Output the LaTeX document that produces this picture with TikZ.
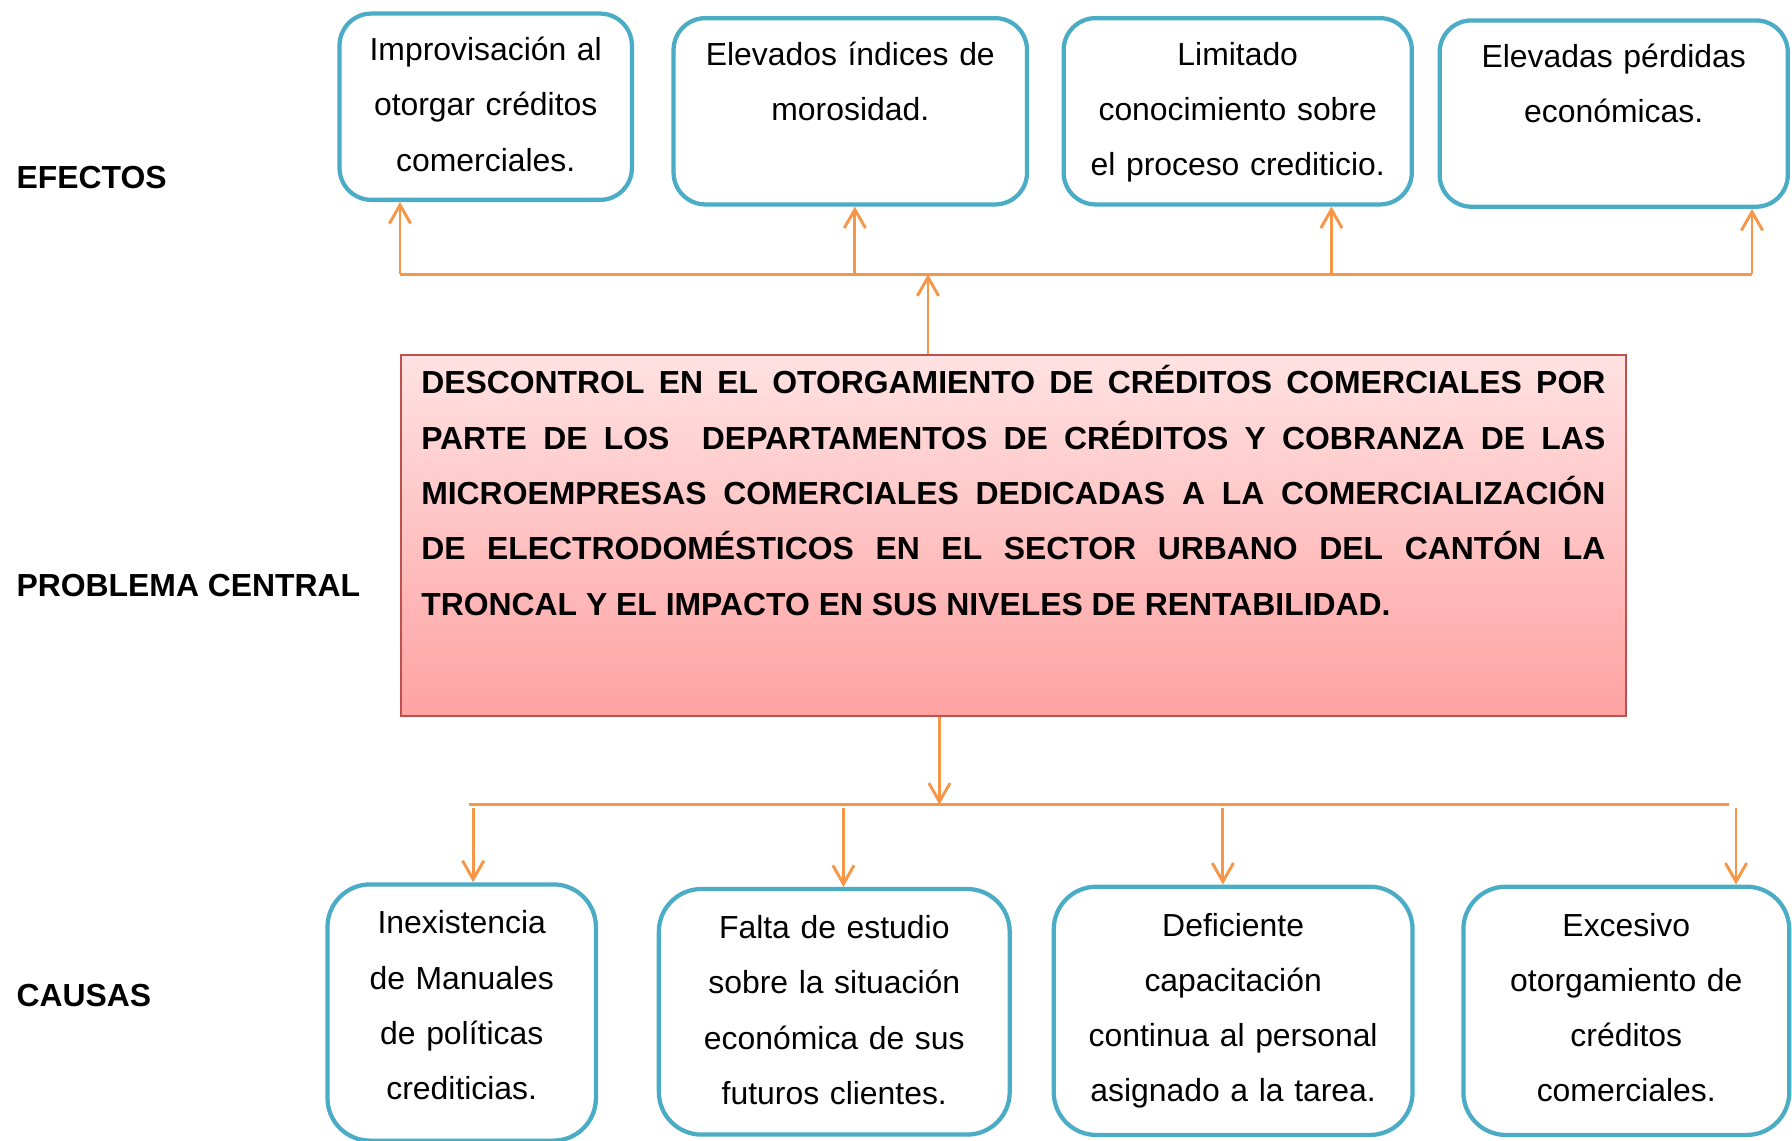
\documentclass[tikz,border=0pt]{standalone}
\usepackage{fontspec}
\setmainfont{Liberation Sans}
\usetikzlibrary{arrows.meta}
\usetikzlibrary{positioning}
\definecolor{boxblue}{HTML}{4BACC6}
\definecolor{linkorange}{HTML}{F79646}
\definecolor{probred}{HTML}{C0504D}
\definecolor{probtop}{HTML}{FFE2E2}
\definecolor{probbottom}{HTML}{FFA2A2}
\tikzstyle{arrow} = [line width=1.1pt, draw=linkorange, -{Straight Barb[length=7pt,width=8pt]}]
\tikzstyle{bus} = [line width=1.1pt, draw=linkorange]
\tikzstyle{heading} = [anchor=west, inner sep=0pt, font=\bfseries\fontsize{12}{14}\selectfont]
\tikzstyle{effect} = [rectangle, rounded corners=12pt, draw=boxblue, line width=1.6pt, fill=white, anchor=north, inner sep=0pt, align=center, text height=17.7pt, text depth=52.4pt, font=\fontsize{12}{20.8}\selectfont]
\tikzstyle{cause} = [rectangle, rounded corners=16pt, draw=boxblue, line width=1.6pt, fill=white, anchor=north, inner sep=0pt, align=center, text height=18.6pt, text depth=74.8pt, font=\fontsize{12}{20.8}\selectfont]
\tikzstyle{problem} = [rectangle, draw=probred, line width=0.6pt, top color=probtop, bottom color=probbottom, anchor=north west, inner xsep=7.7pt, inner ysep=0pt, text width=445.5pt, align=justify, text height=14.6pt, text depth=121.3pt, font=\bfseries\fontsize{12}{20.8}\selectfont]

\begin{document}
\begin{tikzpicture}[x=0.43pt, y=-0.43pt]
    \useasboundingbox (0,0) rectangle (1568,998);

    \node (EFECTOS) [heading] at (14,155) {EFECTOS};
    \node (CENTRAL) [heading] at (14,512) {PROBLEMA CENTRAL};
    \node (CAUSAS) [heading] at (14,871) {CAUSAS};

    \node (IMPROVISACION) [effect, text width=110pt] at (425,10) {Improvisación al\\ otorgar créditos\\ comerciales.};
    \node (MOROSIDAD) [effect, text width=133pt] at (744,14) {Elevados índices de\\ morosidad.};
    \node (CONOCIMIENTO) [effect, text width=131pt] at (1083,14) {Limitado\\ conocimiento sobre\\ el proceso crediticio.};
    \node (PERDIDAS) [effect, text width=131pt] at (1412,16) {Elevadas pérdidas\\ económicas.};

    \node (PROBLEMA) [problem] at (350,310) {DESCONTROL EN EL OTORGAMIENTO DE CRÉDITOS COMERCIALES POR\linebreak PARTE DE LOS \ DEPARTAMENTOS DE CRÉDITOS Y COBRANZA DE LAS\linebreak MICROEMPRESAS COMERCIALES DEDICADAS A LA COMERCIALIZACIÓN\linebreak DE ELECTRODOMÉSTICOS EN EL SECTOR URBANO DEL CANTÓN LA\linebreak TRONCAL Y EL IMPACTO EN SUS NIVELES DE RENTABILIDAD.};

    \node (MANUALES) [cause, text width=101pt, text depth=77.8pt] at (404,772) {Inexistencia\\ de Manuales\\ de políticas\\ crediticias.};
    \node (ESTUDIO) [cause, text width=132pt, text depth=73.8pt] at (730,776) {Falta de estudio\\ sobre la situación\\ económica de sus\\ futuros clientes.};
    \node (CAPACITACION) [cause, text width=135pt] at (1079,774) {Deficiente\\ capacitación\\ continua al personal\\ asignado a la tarea.};
    \node (OTORGAMIENTO) [cause, text width=122.6pt] at (1423,774) {Excesivo\\ otorgamiento de\\ créditos\\ comerciales.};

    % efectos
    \coordinate (EBUS1) at (350,240);
    \coordinate (EBUS2) at (748,240);
    \coordinate (EBUS3) at (1165,240);
    \coordinate (EBUS4) at (1533,240);
    \coordinate (EUP) at (812,240);
    \draw [bus] (EBUS1) -- (EBUS4);
    \draw [arrow] (EUP |- PROBLEMA.north) -- (EUP);
    \draw [arrow] (EBUS1) -- (EBUS1 |- IMPROVISACION.south);
    \draw [arrow] (EBUS2) -- (EBUS2 |- MOROSIDAD.south);
    \draw [arrow] (EBUS3) -- (EBUS3 |- CONOCIMIENTO.south);
    \draw [arrow] (EBUS4) -- (EBUS4 |- PERDIDAS.south);

    % causas
    \coordinate (CBUSL) at (410,704);
    \coordinate (CBUSR) at (1513,704);
    \coordinate (CDOWN) at (822,704);
    \coordinate (CBUS1) at (414,707);
    \coordinate (CBUS2) at (738,707);
    \coordinate (CBUS3) at (1070,707);
    \coordinate (CBUS4) at (1519,707);
    \draw [bus] (CBUSL) -- (CBUSR);
    \draw [arrow] (CDOWN |- PROBLEMA.south) -- (CDOWN);
    \draw [arrow] (CBUS1) -- (CBUS1 |- MANUALES.north);
    \draw [arrow] (CBUS2) -- (CBUS2 |- ESTUDIO.north);
    \draw [arrow] (CBUS3) -- (CBUS3 |- CAPACITACION.north);
    \draw [arrow] (CBUS4) -- (CBUS4 |- OTORGAMIENTO.north);

\end{tikzpicture}
\end{document}
